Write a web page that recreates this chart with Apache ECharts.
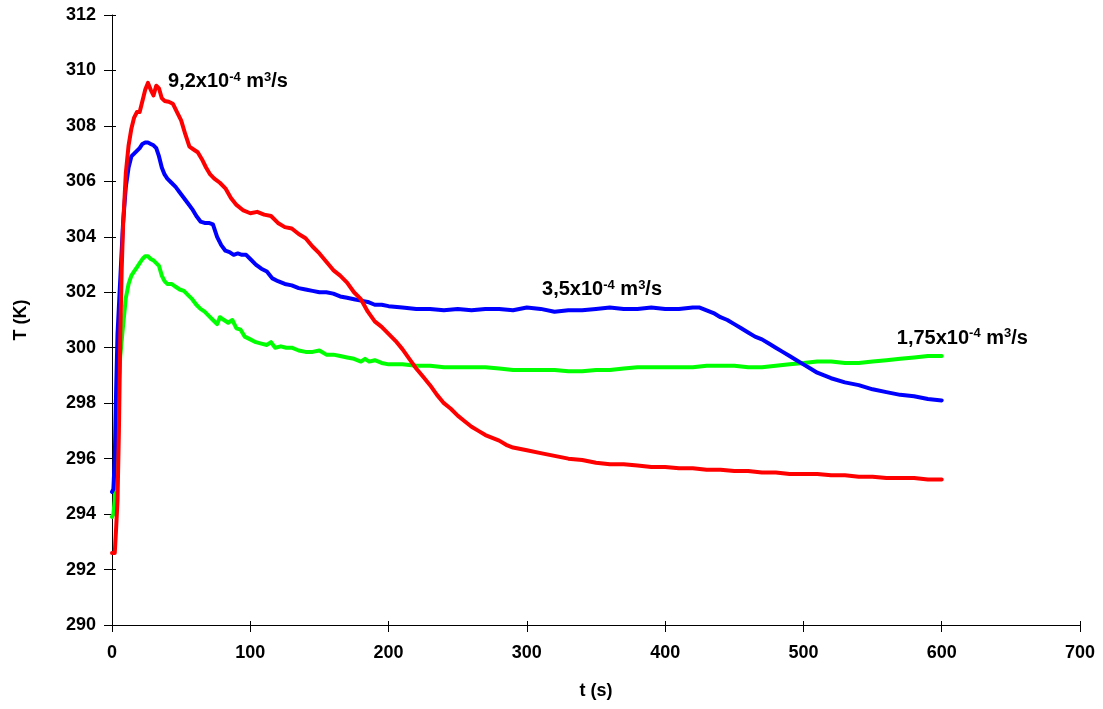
<!DOCTYPE html>
<html>
<head>
<meta charset="utf-8">
<script src="https://cdn.jsdelivr.net/npm/echarts@6/dist/echarts.min.js"></script>
<style>
html,body{margin:0;padding:0;background:#fff;}
#chart{width:1103px;height:709px;}
</style>
</head>
<body>
<div id="chart"></div>
<script>
// ---- data (t in s, T in K) ----
var redT = [0,1,2,3,4,5,6,7,8,10,12,14,16,18,20,22,24,26,28,30,32,34,36,38,41,44,47,50,53,56,59,62,65,68,71,74,78,82,86,90,95,100,105,110,115,120,125,130,135,140,145,150,155,160,165,170,175,180,185,190,195,200,205,210,215,220,225,230,235,240,245,250,255,260,265,270,275,280,285,290,300,310,320,330,340,350,360,370,380,390,400,410,420,430,440,450,460,470,480,490,500,510,520,530,540,550,560,570,580,590,600];
var redV = [292.6,292.6,292.6,293.5,294.5,297,300.5,302.8,304.4,306.3,307.3,307.9,308.3,308.5,308.5,308.9,309.3,309.55,309.3,309.1,309.45,309.35,309.0,308.9,308.87,308.8,308.5,308.2,307.7,307.25,307.15,307.05,306.8,306.5,306.25,306.1,305.95,305.75,305.4,305.15,304.95,304.85,304.9,304.8,304.75,304.5,304.35,304.3,304.1,303.95,303.65,303.4,303.1,302.8,302.6,302.35,302.0,301.75,301.3,300.95,300.75,300.5,300.25,299.95,299.6,299.25,298.95,298.65,298.3,298.0,297.8,297.55,297.35,297.15,297.0,296.85,296.75,296.65,296.5,296.4,296.3,296.2,296.1,296.0,295.95,295.85,295.8,295.8,295.75,295.7,295.7,295.65,295.65,295.6,295.6,295.55,295.55,295.5,295.5,295.45,295.45,295.45,295.4,295.4,295.35,295.35,295.3,295.3,295.3,295.25,295.25];

var blueT = [0,1,2,3,4,6,8,10,12,14,16,18,20,22,24,26,28,30,32,34,36,38,40,43,46,49,52,55,58,61,64,67,70,73,76,79,82,85,88,91,94,97,100,104,108,112,116,120,125,130,135,140,145,150,155,160,165,170,175,180,185,190,195,200,210,220,230,240,250,260,270,280,290,300,310,320,330,340,350,360,370,380,390,400,410,420,425,430,435,440,445,450,455,460,465,470,475,480,485,490,495,500,505,510,515,520,530,540,550,560,570,580,590,600];
var blueV = [294.8,294.9,296,298.5,300.5,302.5,304.5,305.8,306.5,306.9,307.0,307.1,307.2,307.35,307.4,307.4,307.35,307.3,307.2,306.9,306.5,306.25,306.1,305.95,305.8,305.6,305.4,305.2,305.0,304.75,304.55,304.5,304.5,304.45,304.0,303.7,303.5,303.45,303.35,303.4,303.35,303.35,303.2,303.0,302.85,302.75,302.5,302.4,302.3,302.25,302.15,302.1,302.05,302.0,302.0,301.95,301.85,301.8,301.75,301.7,301.65,301.55,301.55,301.5,301.45,301.4,301.4,301.35,301.4,301.35,301.4,301.4,301.35,301.45,301.4,301.3,301.35,301.35,301.4,301.45,301.4,301.4,301.45,301.4,301.4,301.45,301.45,301.35,301.25,301.1,301.0,300.85,300.7,300.55,300.4,300.3,300.15,300.0,299.85,299.7,299.55,299.4,299.25,299.1,299.0,298.9,298.75,298.65,298.5,298.4,298.3,298.25,298.15,298.1];

var greenT = [0,1,2,3,4,5,6,8,10,12,14,16,18,20,22,24,26,28,30,32,34,36,38,40,43,46,49,52,55,58,61,64,67,70,73,76,78,81,84,87,90,93,96,100,104,108,112,115,118,122,126,130,135,140,145,150,155,160,165,170,175,180,183,186,190,195,200,210,220,230,240,250,260,270,280,290,300,310,320,330,340,350,360,370,380,390,400,410,420,430,440,450,460,470,480,490,500,510,520,530,540,550,560,570,580,590,600];
var greenV = [293.9,294.0,294.5,296,297.5,298.8,299.7,300.8,301.8,302.3,302.6,302.75,302.9,303.05,303.2,303.3,303.3,303.2,303.15,303.05,302.95,302.6,302.4,302.3,302.3,302.2,302.1,302.05,301.9,301.75,301.55,301.4,301.3,301.15,301.0,300.85,301.1,301.0,300.9,301.0,300.7,300.65,300.4,300.3,300.2,300.15,300.1,300.2,300.0,300.05,300.0,300.0,299.9,299.85,299.85,299.9,299.75,299.75,299.7,299.65,299.6,299.5,299.6,299.5,299.55,299.45,299.4,299.4,299.35,299.35,299.3,299.3,299.3,299.3,299.25,299.2,299.2,299.2,299.2,299.15,299.15,299.2,299.2,299.25,299.3,299.3,299.3,299.3,299.3,299.35,299.35,299.35,299.3,299.3,299.35,299.4,299.45,299.5,299.5,299.45,299.45,299.5,299.55,299.6,299.65,299.7,299.7];

var seriesNames = ['9,2x10-4 m3/s', '3,5x10-4 m3/s', '1,75x10-4 m3/s'];
var labelBase = ['9,2x10', '3,5x10', '1,75x10'];
var labelAt = [[40.5, 309.6], [311, 302.1], [567.5, 300.35]];

var xTicks = [0,100,200,300,400,500,600,700];
var yTicks = [290,292,294,296,298,300,302,304,306,308,310,312];

function pairs(t, v){ return t.map(function(x,i){ return [x, v[i]]; }); }

var FF = 'Liberation Sans, Arial, sans-serif';
var richStyle = {
  a: {fontFamily:FF, fontWeight:'bold', fontSize:20, color:'#000'},
  s: {fontFamily:FF, fontWeight:'bold', fontSize:13, color:'#000', verticalAlign:'top', padding:[0,0,9,0]}
};

function mk(i){
  return {
    symbol: 'circle', symbolSize: 0,
    label: {
      show: true, position: 'right', distance: 0,
      formatter: '{a|' + labelBase[i] + '}{s|-4}{a| m}{s|3}{a|/s}',
      rich: richStyle
    },
    data: [{coord: labelAt[i]}]
  };
}

var colors = ['#FF0000', '#0000FF', '#00FF00'];
var datasets = [pairs(redT, redV), pairs(blueT, blueV), pairs(greenT, greenV)];

var chart = echarts.init(document.getElementById('chart'), null, {renderer:'canvas'});
var axisFont = {fontFamily:FF, fontWeight:'bold', fontSize:18, color:'#000'};
var lineCol = '#000';

chart.setOption({
  animation: false,
  backgroundColor: '#fff',
  grid: {left:112, right:23, top:15, bottom:84, containLabel:false},
  xAxis: [{
    type: 'value', min: 0, max: 700, interval: 100,
    name: 't (s)', nameLocation: 'middle', nameGap: 57,
    nameTextStyle: axisFont,
    axisLine: {show:true, onZero:false, lineStyle:{color:lineCol, width:1}},
    axisTick: {show:true, inside:false, length:7, lineStyle:{color:lineCol}},
    axisLabel: Object.assign({margin:19, formatter: function(v){ return xTicks.indexOf(v) >= 0 ? String(v) : ''; }}, axisFont),
    splitLine: {show:false}
  }, {
    type: 'value', min: 0, max: 700, interval: 100, position: 'bottom', offset: 0,
    axisLine: {show:false},
    axisTick: {show:true, inside:true, length:4, lineStyle:{color:lineCol}},
    axisLabel: {show:false}, splitLine: {show:false}
  }],
  yAxis: [{
    type: 'value', min: 290, max: 312, interval: 2,
    name: 'T (K)', nameLocation: 'middle', nameGap: 82, nameRotate: 90,
    nameTextStyle: axisFont,
    axisLine: {show:true, onZero:false, lineStyle:{color:lineCol, width:1}},
    axisTick: {show:true, inside:false, length:8, lineStyle:{color:lineCol}},
    axisLabel: Object.assign({margin:16, formatter: function(v){ return yTicks.indexOf(v) >= 0 ? String(v) : ''; }}, axisFont),
    splitLine: {show:false}
  }, {
    type: 'value', min: 290, max: 312, interval: 2, position: 'left', offset: 0,
    axisLine: {show:false},
    axisTick: {show:true, inside:true, length:4, lineStyle:{color:lineCol}},
    axisLabel: {show:false}, splitLine: {show:false}
  }],
  series: datasets.map(function(d, i){
    return {
      name: seriesNames[i], type: 'line', data: d,
      xAxisIndex: 0, yAxisIndex: 0,
      showSymbol: false, symbol: 'none',
      lineStyle: {color: colors[i], width: 4, join: 'round', cap: 'round'},
      itemStyle: {color: colors[i]},
      markPoint: mk(i),
      z: 3 - i
    };
  })
});
</script>
</body>
</html>
